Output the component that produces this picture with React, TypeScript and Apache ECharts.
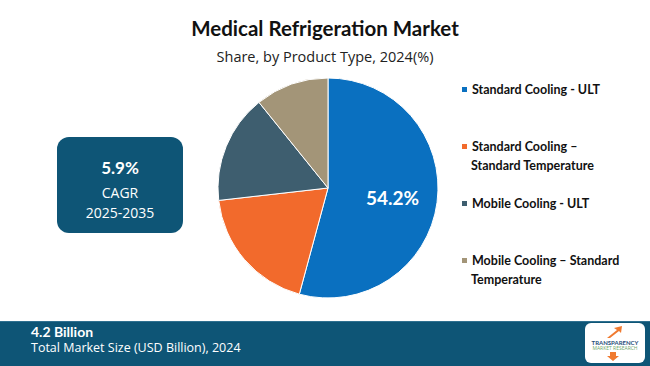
import React, { useEffect, useRef } from "react";
import * as echarts from "echarts";

const categories = [
  "Standard Cooling - ULT",
  "Standard Cooling – Standard Temperature",
  "Mobile Cooling - ULT",
  "Mobile Cooling – Standard Temperature",
];
const legendFirstLines = [
  "Standard Cooling - ULT",
  "Standard Cooling –",
  "Mobile Cooling - ULT",
  "Mobile Cooling – Standard",
];
const legendSecondLines = ["", "Standard Temperature", "", "Temperature"];
const shares = [54.2, 19.0, 16.0, 10.8];
const colors = ["#0A70C0", "#F26A2C", "#3E5E6F", "#A39578"];

const TITLE = "Medical Refrigeration Market";
const SUBTITLE = "Share, by Product Type, 2024(%)";
const CAGR_VALUE = "5.9%";
const CAGR_LABEL = "CAGR";
const CAGR_PERIOD = "2025-2035";
const MARKET_SIZE = "4.2 Billion";
const MARKET_LABEL = "Total Market Size (USD Billion), 2024";

const BOLD_FONT = "Lato";
const LIGHT_FONT = "'Open Sans'";
const DARK = "#0E5576";

export default function App() {
  const ref = useRef<HTMLDivElement>(null);
  useEffect(() => {
    document.body.style.margin = "0";
    const chart = echarts.init(ref.current!, undefined, { renderer: "svg" });
    const legendCenters = [91, 148, 205, 262];
    const legends = categories.map((name, i) => ({
      data: [name],
      left: 460,
      top: legendCenters[i] - 8,
      padding: 0,
      orient: "vertical",
      icon: "rect",
      itemWidth: 7,
      itemHeight: 7,
      itemGap: 5,
      selectedMode: false,
      formatter: () => legendFirstLines[i],
      textStyle: {
        fontFamily: BOLD_FONT,
        fontWeight: "bold",
        fontSize: 12.5,
        color: "#111",
        padding: [0, 0, 0, -1],
      },
    }));
    const secondLineTexts = legendSecondLines
      .map((t, i) =>
        t
          ? {
              type: "text",
              x: 471,
              y: legendCenters[i] + 17,
              style: {
                text: t,
                verticalAlign: "middle",
                fontFamily: BOLD_FONT,
                fontWeight: "bold",
                fontSize: 12.5,
                fill: "#111",
              },
            }
          : null
      )
      .filter(Boolean);
    chart.setOption({
      animation: false,
      backgroundColor: "#ffffff",
      title: [
        {
          text: TITLE,
          left: "center",
          top: 12,
          textStyle: {
            fontFamily: BOLD_FONT,
            fontWeight: "bold",
            fontSize: 20.5,
            color: "#111",
          },
        },
        {
          text: SUBTITLE,
          left: "center",
          top: 44,
          textStyle: {
            fontFamily: LIGHT_FONT,
            fontWeight: "normal",
            fontSize: 14.5,
            color: "#222",
          },
        },
      ],
      legend: legends,
      series: [
        {
          type: "pie",
          center: [328, 188],
          radius: [0, 110],
          startAngle: 90,
          clockwise: true,
          avoidLabelOverlap: false,
          itemStyle: { borderColor: "#ffffff", borderWidth: 1 },
          label: { show: false },
          labelLine: { show: false },
          emphasis: { disabled: true },
          data: categories.map((name, i) => ({
            name,
            value: shares[i],
            itemStyle: { color: colors[i] },
            label:
              i === 0
                ? {
                    show: true,
                    position: "inside",
                    formatter: (p: any) => `${p.value}%`,
                    fontFamily: "Lato",
                    fontWeight: "bold",
                    fontSize: 19,
                    color: "#ffffff",
                    offset: [7, 2],
                  }
                : { show: false },
          })),
        },
      ],
      graphic: [
        ...secondLineTexts,
        {
          type: "rect",
          shape: { x: 57, y: 137, width: 126, height: 96, r: 12 },
          style: { fill: DARK },
        },
        {
          type: "text",
          x: 120,
          y: 167,
          style: {
            text: CAGR_VALUE,
            align: "center",
            verticalAlign: "middle",
            fontFamily: BOLD_FONT,
            fontWeight: "bold",
            fontSize: 17,
            fill: "#ffffff",
          },
        },
        {
          type: "text",
          x: 120,
          y: 192,
          style: {
            text: CAGR_LABEL,
            align: "center",
            verticalAlign: "middle",
            fontFamily: LIGHT_FONT,
            fontSize: 14,
            fill: "#ffffff",
          },
        },
        {
          type: "text",
          x: 120,
          y: 212,
          style: {
            text: CAGR_PERIOD,
            align: "center",
            verticalAlign: "middle",
            fontFamily: LIGHT_FONT,
            fontSize: 14,
            fill: "#ffffff",
          },
        },
        {
          type: "rect",
          shape: { x: 0, y: 321, width: 650, height: 45 },
          style: { fill: DARK },
        },
        {
          type: "line",
          shape: { x1: 0, y1: 321.5, x2: 650, y2: 321.5 },
          style: { stroke: "#2F7090", lineWidth: 1 },
        },
        {
          type: "text",
          x: 31,
          y: 331,
          style: {
            text: MARKET_SIZE,
            verticalAlign: "middle",
            fontFamily: BOLD_FONT,
            fontWeight: "bold",
            fontSize: 14,
            fill: "#ffffff",
          },
        },
        {
          type: "text",
          x: 31,
          y: 347,
          style: {
            text: MARKET_LABEL,
            verticalAlign: "middle",
            fontFamily: LIGHT_FONT,
            fontSize: 12.5,
            fill: "#ffffff",
          },
        },
        {
          type: "rect",
          shape: { x: 585, y: 323, width: 60, height: 40, r: 6 },
          style: { fill: "#ffffff" },
        },
        {
          type: "polygon",
          shape: {
            points: [
              [607, 338],
              [617, 330],
              [614, 328],
              [622, 326],
              [621, 333],
              [619, 331],
              [610, 338],
            ],
          },
          style: { fill: "#F07A30" },
        },
        {
          type: "polygon",
          shape: {
            points: [
              [610, 352],
              [616, 352],
              [616, 356],
              [619, 356],
              [613, 361],
              [607, 356],
              [610, 356],
            ],
          },
          style: { fill: "#F07A30" },
        },
        {
          type: "text",
          x: 615,
          y: 342,
          style: {
            text: "TRANSPARENCY",
            align: "center",
            verticalAlign: "middle",
            fontFamily: BOLD_FONT,
            fontWeight: "bold",
            fontSize: 6,
            fill: "#1F4E79",
          },
        },
        {
          type: "text",
          x: 615,
          y: 348,
          style: {
            text: "MARKET RESEARCH",
            align: "center",
            verticalAlign: "middle",
            fontFamily: LIGHT_FONT,
            fontSize: 5,
            fill: "#6FA86A",
          },
        },
      ],
    });
    return () => chart.dispose();
  }, []);
  return <div ref={ref} style={{ width: 650, height: 366 }} />;
}
